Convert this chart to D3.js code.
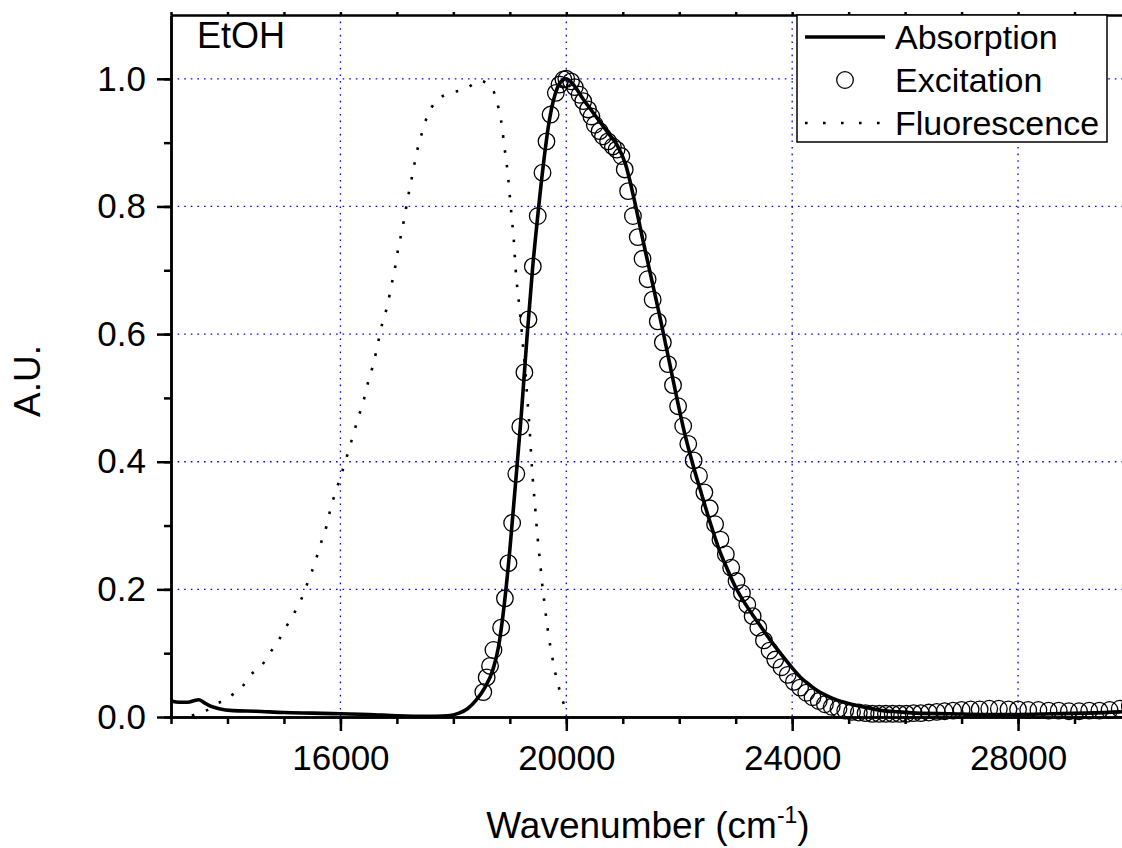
<!DOCTYPE html>
<meta charset="utf-8">
<style>
    body { margin: 0; background: #fff; }
    text { font-family: "Liberation Sans", Arial, sans-serif; fill: #000; }
    .axis path, .axis line { stroke: #000; stroke-width: 2.5; }
    .axis text { font-size: 35px; }
    .grid line { stroke: #0000ff; stroke-width: 1.3; stroke-dasharray: 1.6,5; }
</style>
<div id="chart"></div>
<script src="https://cdn.jsdelivr.net/npm/d3@7"></script>
<script>
    // absorption (solid line)
    var absX = [13000,13150,13300,13420,13490,13580,13700,13850,14100,14500,15000,15500,16000,16500,17000,17500,17900,
        18100,18250,18400,18550,18700,18800,18900,19000,19100,19200,19300,19400,19500,19600,19700,19800,19900,20000,
        20150,20300,20450,20600,20750,20900,21050,21200,21350,21500,21650,21800,21950,22100,22250,22400,22550,22700,
        22850,23000,23150,23300,23450,23600,23800,24000,24150,24300,24450,24600,24750,25000,25300,25600,25900,26200,
        26800,27400,28000,28600,29200,29800,30000];
    var absY = [0.025,0.023,0.023,0.026,0.027,0.023,0.017,0.013,0.010,0.009,0.007,0.006,0.005,0.004,0.002,0.001,0.002,
        0.006,0.013,0.026,0.045,0.074,0.110,0.175,0.262,0.365,0.470,0.590,0.700,0.790,0.870,0.935,0.975,0.995,1.000,
        0.988,0.968,0.950,0.932,0.914,0.896,0.866,0.812,0.750,0.690,0.630,0.567,0.503,0.443,0.393,0.348,0.304,0.264,
        0.232,0.203,0.180,0.160,0.141,0.122,0.099,0.077,0.062,0.051,0.041,0.034,0.028,0.021,0.015,0.010,0.008,0.006,
        0.005,0.004,0.004,0.005,0.006,0.008,0.009];

    // excitation (open circles)
    var excX = [18530,18590,18650,18710,18846,18913,18976,19041,19115,19186,19258,19330,19407,19494,19579,19649,19722,
        19815,19880,19950,20000,20085,20150,20235,20300,20385,20445,20505,20590,20650,20740,20825,20890,20975,21035,
        21095,21180,21265,21350,21440,21530,21620,21710,21800,21890,21980,22070,22160,22255,22350,22445,22540,22635,
        22730,22825,22920,23015,23110,23205,23300,23400,23500,23600,23700,23810,23920,24030,24140,24250,24360,24470,
        24580,24700,24820,24940,25060,25180,25300,25420,25540,25660,25780,25900,26020,26150,26280,26420,26560,26700,
        26850,27000,27160,27320,27490,27660,27830,28000,28180,28360,28540,28720,28900,29080,29260,29440,29620,29800,29980];
    var excY = [0.039,0.062,0.080,0.105,0.140,0.186,0.241,0.304,0.381,0.455,0.540,0.623,0.706,0.785,0.853,0.902,0.944,
        0.978,0.991,0.999,1.000,0.996,0.987,0.975,0.965,0.952,0.941,0.928,0.918,0.910,0.902,0.894,0.889,0.879,0.858,
        0.824,0.785,0.752,0.718,0.686,0.654,0.620,0.587,0.553,0.520,0.487,0.456,0.428,0.402,0.378,0.352,0.327,0.302,
        0.278,0.255,0.234,0.213,0.194,0.176,0.158,0.140,0.120,0.104,0.090,0.078,0.066,0.055,0.046,0.038,0.031,0.025,
        0.020,0.016,0.013,0.010,0.008,0.007,0.006,0.005,0.005,0.005,0.005,0.005,0.005,0.006,0.006,0.007,0.008,0.009,
        0.010,0.011,0.012,0.012,0.013,0.013,0.012,0.012,0.011,0.011,0.010,0.010,0.009,0.009,0.010,0.010,0.011,0.013,0.017];

    // fluorescence (dotted line)
    var fluX = [13370,13480,13600,13830,13970,14060,14250,14400,14600,14740,14890,15030,15150,15300,15430,15550,15650,
        15750,15830,15920,16020,16120,16220,16320,16420,16500,16595,16665,16740,16835,16900,16970,17025,17095,17155,
        17215,17280,17345,17430,17540,17710,17920,18215,18470,18690,18800,18860,18900,18945,18980,19010,19040,19070,
        19090,19115,19150,19185,19215,19245,19275,19300,19325,19350,19370,19390,19415,19445,19470,19500,19535,19565,
        19605,19645,19690,19745,19810,19895,19995];
    var fluY = [0.002,0.006,0.009,0.022,0.026,0.033,0.046,0.065,0.080,0.099,0.118,0.140,0.158,0.183,0.213,0.242,0.271,
        0.298,0.328,0.354,0.381,0.410,0.440,0.470,0.499,0.528,0.557,0.586,0.616,0.646,0.675,0.705,0.735,0.764,0.794,
        0.823,0.852,0.882,0.911,0.942,0.966,0.977,0.984,0.997,0.984,0.954,0.926,0.896,0.866,0.836,0.806,0.777,0.748,
        0.719,0.688,0.659,0.629,0.600,0.570,0.541,0.511,0.481,0.452,0.422,0.393,0.363,0.333,0.304,0.274,0.244,0.215,
        0.185,0.155,0.126,0.097,0.067,0.038,0.009];

    var xMajor = [16000, 20000, 24000, 28000];
    var yMajor = [0.0, 0.2, 0.4, 0.6, 0.8, 1.0];
    var legendNames = ["Absorption", "Excitation", "Fluorescence"];

    var W = 1122, H = 848;
    var pLeft = 171, pRight = 1131, pTop = 15, pBottom = 717;

    var svg = d3.select("#chart").append("svg")
        .attr("width", W)
        .attr("height", H);

    svg.append("rect").attr("width", W).attr("height", H).attr("fill", "#fff");

    var x = d3.scaleLinear().domain([13000, 30000]).range([pLeft, pRight]);
    var y = d3.scaleLinear().domain([0, 1.1]).range([pBottom, pTop]);

    var absData = d3.zip(absX, absY),
        excData = d3.zip(excX, excY),
        fluData = d3.zip(fluX, fluY);

    // grid
    var grid = svg.append("g").attr("class", "grid");
    grid.selectAll(".gx").data(xMajor).enter().append("line")
        .attr("x1", function(d) { return x(d); }).attr("x2", function(d) { return x(d); })
        .attr("y1", pTop).attr("y2", pBottom);
    grid.selectAll(".gy").data(yMajor.filter(function(d) { return d > 0; })).enter().append("line")
        .attr("y1", function(d) { return y(d); }).attr("y2", function(d) { return y(d); })
        .attr("x1", pLeft).attr("x2", pRight);

    var line = d3.line()
        .x(function(d) { return x(d[0]); })
        .y(function(d) { return y(d[1]); })
        .curve(d3.curveMonotoneX);

    svg.append("path")
        .datum(fluData)
        .attr("d", line)
        .attr("fill", "none")
        .attr("stroke", "#000")
        .attr("stroke-width", 2.6)
        .attr("stroke-dasharray", "2.6,12.4");

    svg.append("path")
        .datum(absData)
        .attr("d", line)
        .attr("fill", "none")
        .attr("stroke", "#000")
        .attr("stroke-width", 3.6);

    svg.append("g").selectAll("circle")
        .data(excData)
        .enter().append("circle")
        .attr("cx", function(d) { return x(d[0]); })
        .attr("cy", function(d) { return y(d[1]); })
        .attr("r", 8.3)
        .attr("fill", "none")
        .attr("stroke", "#000")
        .attr("stroke-width", 1.3);

    // axes
    var xMinor = d3.range(13000, 30001, 1000);
    var yMinor = d3.range(0, 11).map(function(i) { return i / 10; });

    svg.append("g").attr("class", "axis")
        .attr("transform", "translate(0," + pBottom + ")")
        .call(d3.axisBottom(x).tickValues(xMinor).tickSize(7).tickSizeOuter(0).tickFormat(""));
    svg.append("g").attr("class", "axis")
        .attr("transform", "translate(0," + pBottom + ")")
        .call(d3.axisBottom(x).tickValues(xMajor).tickSize(14).tickSizeOuter(0).tickPadding(14).tickFormat(d3.format("d")));

    svg.append("g").attr("class", "axis")
        .attr("transform", "translate(" + pLeft + ",0)")
        .call(d3.axisLeft(y).tickValues(yMinor).tickSize(7).tickSizeOuter(0).tickFormat(""));
    svg.append("g").attr("class", "axis")
        .attr("transform", "translate(" + pLeft + ",0)")
        .call(d3.axisLeft(y).tickValues(yMajor).tickSize(14).tickSizeOuter(0).tickPadding(11).tickFormat(d3.format(".1f")));

    svg.append("g").attr("class", "axis")
        .attr("transform", "translate(0," + pTop + ")")
        .call(d3.axisTop(x).tickValues(xMinor).tickSize(3).tickSizeOuter(0).tickFormat(""));

    svg.selectAll(".axis .domain").attr("stroke-width", 3);

    // titles
    svg.append("text")
        .attr("transform", "translate(40,381) rotate(-90)")
        .attr("text-anchor", "middle")
        .style("font-size", "37px")
        .text("A.U.");

    var xt = svg.append("text")
        .attr("x", 648).attr("y", 838)
        .attr("text-anchor", "middle")
        .style("font-size", "37px");
    xt.append("tspan").text("Wavenumber (cm");
    xt.append("tspan").attr("dy", -15).style("font-size", "23px").text("-1");
    xt.append("tspan").attr("dy", 15).text(")");

    svg.append("text")
        .attr("x", 197).attr("y", 48)
        .style("font-size", "36px")
        .text("EtOH");

    // legend
    var lg = svg.append("g");
    lg.append("rect")
        .attr("x", 797).attr("y", 15)
        .attr("width", 310).attr("height", 127)
        .attr("fill", "#fff")
        .attr("stroke", "#000")
        .attr("stroke-width", 1.5);

    var rowY = [37, 80, 123];
    lg.append("line").attr("x1", 805).attr("x2", 885).attr("y1", rowY[0]).attr("y2", rowY[0])
        .attr("stroke", "#000").attr("stroke-width", 3.6);
    lg.append("circle").attr("cx", 845).attr("cy", rowY[1]).attr("r", 8.3)
        .attr("fill", "none").attr("stroke", "#000").attr("stroke-width", 1.3);
    lg.append("line").attr("x1", 805).attr("x2", 885).attr("y1", rowY[2]).attr("y2", rowY[2])
        .attr("stroke", "#000").attr("stroke-width", 2.6).attr("stroke-dasharray", "2.6,15.4");

    lg.selectAll(".lt").data(legendNames).enter().append("text")
        .attr("x", 895)
        .attr("y", function(d, i) { return rowY[i] + 12; })
        .style("font-size", "34px")
        .text(function(d) { return d; });
</script>
